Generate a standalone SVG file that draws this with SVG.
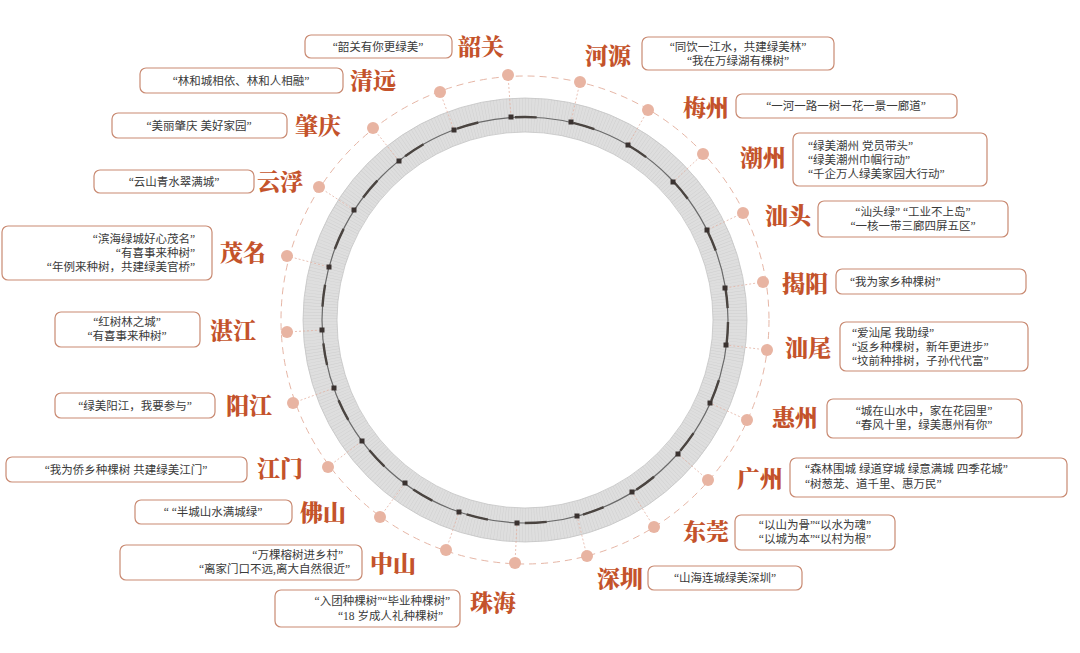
<svg xmlns="http://www.w3.org/2000/svg" width="1080" height="653" viewBox="0 0 1080 653">
<style>
.lb{font-family:"Noto Serif CJK SC","Noto Sans CJK SC",serif;font-weight:900;font-size:23px;fill:#c4532b}
.q{font-family:"Liberation Serif","Noto Sans CJK SC",serif;font-size:11.5px;fill:#3a3a3a}
.bx{fill:#fff;stroke:#c98a72;stroke-width:1.2}
.dot{fill:#e8b4a2}
.cn{stroke:#e3b3a3;stroke-width:0.8;stroke-dasharray:2 2}
.mk{fill:#3a3230}
</style>
<rect width="1080" height="653" fill="#fff"/>
<g id="ring">
<circle cx="525" cy="320" r="205" fill="none" stroke="#dedede" stroke-width="34"/>
<circle cx="525" cy="320" r="205" fill="none" stroke="#cdcdcd" stroke-width="34" stroke-dasharray="0.4 2.6"/>
<circle cx="525" cy="320" r="222" fill="none" stroke="#c4c4c4" stroke-width="0.8"/>
<circle cx="525" cy="320" r="188" fill="none" stroke="#c4c4c4" stroke-width="0.8"/>
<circle cx="525" cy="320" r="203" fill="none" stroke="#6a6a6a" stroke-width="1.2"/>
<circle cx="525" cy="320" r="203" fill="none" stroke="#4a4440" stroke-width="2.4" stroke-dasharray="22 37" stroke-dashoffset="-2"/>
<circle cx="525" cy="320" r="244" fill="none" stroke="#e6b6a6" stroke-width="1" stroke-dasharray="7 5"/>
</g>
<g id="connectors">
<line class="cn" x1="508" y1="75" x2="511" y2="117"/>
<line class="cn" x1="580" y1="82" x2="571" y2="122"/>
<line class="cn" x1="648" y1="110" x2="628" y2="145"/>
<line class="cn" x1="703" y1="154" x2="673" y2="182"/>
<line class="cn" x1="743" y1="213" x2="707" y2="230"/>
<line class="cn" x1="763" y1="282" x2="725" y2="288"/>
<line class="cn" x1="767" y1="350" x2="726" y2="345"/>
<line class="cn" x1="747" y1="420" x2="710" y2="403"/>
<line class="cn" x1="708" y1="480" x2="678" y2="454"/>
<line class="cn" x1="654" y1="527" x2="632" y2="492"/>
<line class="cn" x1="587" y1="556" x2="577" y2="516"/>
<line class="cn" x1="515" y1="563" x2="517" y2="523"/>
<line class="cn" x1="446" y1="550" x2="459" y2="512"/>
<line class="cn" x1="380" y1="517" x2="405" y2="483"/>
<line class="cn" x1="328" y1="467" x2="362" y2="441"/>
<line class="cn" x1="293" y1="403" x2="334" y2="388"/>
<line class="cn" x1="287" y1="332" x2="322" y2="330"/>
<line class="cn" x1="287" y1="256" x2="329" y2="267"/>
<line class="cn" x1="319" y1="187" x2="354" y2="210"/>
<line class="cn" x1="373" y1="128" x2="399" y2="161"/>
<line class="cn" x1="440" y1="92" x2="454" y2="130"/>
</g>
<g id="markers">
<rect class="mk" x="508.5" y="114.5" width="5" height="5"/><rect class="mk" x="568.5" y="119.5" width="5" height="5"/>
<rect class="mk" x="625.5" y="142.5" width="5" height="5"/><rect class="mk" x="670.5" y="179.5" width="5" height="5"/>
<rect class="mk" x="704.5" y="227.5" width="5" height="5"/><rect class="mk" x="722.5" y="285.5" width="5" height="5"/>
<rect class="mk" x="723.5" y="342.5" width="5" height="5"/><rect class="mk" x="707.5" y="400.5" width="5" height="5"/>
<rect class="mk" x="675.5" y="451.5" width="5" height="5"/><rect class="mk" x="629.5" y="489.5" width="5" height="5"/>
<rect class="mk" x="574.5" y="513.5" width="5" height="5"/><rect class="mk" x="514.5" y="520.5" width="5" height="5"/>
<rect class="mk" x="456.5" y="509.5" width="5" height="5"/><rect class="mk" x="402.5" y="480.5" width="5" height="5"/>
<rect class="mk" x="359.5" y="438.5" width="5" height="5"/><rect class="mk" x="331.5" y="385.5" width="5" height="5"/>
<rect class="mk" x="319.5" y="327.5" width="5" height="5"/><rect class="mk" x="326.5" y="264.5" width="5" height="5"/>
<rect class="mk" x="351.5" y="207.5" width="5" height="5"/><rect class="mk" x="396.5" y="158.5" width="5" height="5"/>
<rect class="mk" x="451.5" y="127.5" width="5" height="5"/>
</g>
<g id="shaoguan"><circle class="dot" cx="508" cy="75" r="6"/><rect class="bx" x="305" y="35" width="147" height="23" rx="6"/><text class="q" x="378" y="51" text-anchor="middle">“韶关有你更绿美”</text><text class="lb" x="458" y="55">韶关</text></g>
<g id="heyuan"><circle class="dot" cx="580" cy="82" r="6"/><text class="lb" x="585" y="64">河源</text><rect class="bx" x="642" y="37" width="192" height="33" rx="6"/><text class="q" x="738" y="51" text-anchor="middle">“同饮一江水，共建绿美林”</text><text class="q" x="738" y="65" text-anchor="middle">“我在万绿湖有棵树”</text></g>
<g id="qingyuan"><circle class="dot" cx="440" cy="92" r="6"/><rect class="bx" x="140" y="68" width="203" height="25" rx="6"/><text class="q" x="241" y="85" text-anchor="middle">“林和城相依、林和人相融”</text><text class="lb" x="350" y="89">清远</text></g>
<g id="meizhou"><circle class="dot" cx="648" cy="110" r="6"/><text class="lb" x="683" y="116">梅州</text><rect class="bx" x="736" y="94" width="221" height="24" rx="6"/><text class="q" x="846" y="110" text-anchor="middle">“一河一路一树一花一景一廊道”</text></g>
<g id="zhaoqing"><circle class="dot" cx="373" cy="128" r="6"/><rect class="bx" x="112" y="113" width="175" height="25" rx="6"/><text class="q" x="199" y="130" text-anchor="middle">“美丽肇庆 美好家园”</text><text class="lb" x="295" y="134">肇庆</text></g>
<g id="chaozhou"><circle class="dot" cx="703" cy="154" r="6"/><text class="lb" x="740" y="166">潮州</text><rect class="bx" x="793" y="133" width="194" height="53" rx="6"/><text class="q" x="808" y="150">“绿美潮州 党员带头”</text><text class="q" x="808" y="164">“绿美潮州巾帼行动”</text><text class="q" x="808" y="178">“千企万人绿美家园大行动”</text></g>
<g id="yunfu"><circle class="dot" cx="319" cy="187" r="6"/><rect class="bx" x="94" y="170" width="160" height="23" rx="6"/><text class="q" x="174" y="186" text-anchor="middle">“云山青水翠满城”</text><text class="lb" x="257" y="190">云浮</text></g>
<g id="shantou"><circle class="dot" cx="743" cy="213" r="6"/><text class="lb" x="765" y="224">汕头</text><rect class="bx" x="818" y="201" width="190" height="36" rx="6"/><text class="q" x="913" y="216" text-anchor="middle">“汕头绿”  “工业不上岛”</text><text class="q" x="913" y="230" text-anchor="middle">“一核一带三廊四屏五区”</text></g>
<g id="maoming"><circle class="dot" cx="287" cy="256" r="6"/><rect class="bx" x="2" y="226" width="210" height="54" rx="6"/><text class="q" x="195" y="243" text-anchor="end">“滨海绿城好心茂名”</text><text class="q" x="195" y="257" text-anchor="end">“有喜事来种树”</text><text class="q" x="195" y="271" text-anchor="end">“年例来种树，共建绿美官桥”</text><text class="lb" x="220" y="261">茂名</text></g>
<g id="jieyang"><circle class="dot" cx="763" cy="282" r="6"/><text class="lb" x="782" y="292">揭阳</text><rect class="bx" x="836" y="269" width="190" height="25" rx="6"/><text class="q" x="850" y="286">“我为家乡种棵树”</text></g>
<g id="zhanjiang"><circle class="dot" cx="287" cy="332" r="6"/><rect class="bx" x="55" y="312" width="145" height="35" rx="6"/><text class="q" x="127" y="326" text-anchor="middle">“红树林之城”</text><text class="q" x="127" y="340" text-anchor="middle">“有喜事来种树”</text><text class="lb" x="210" y="339">湛江</text></g>
<g id="shanwei"><circle class="dot" cx="767" cy="350" r="6"/><text class="lb" x="785" y="356">汕尾</text><rect class="bx" x="840" y="322" width="188" height="49" rx="6"/><text class="q" x="852" y="337">“爱汕尾 我助绿”</text><text class="q" x="852" y="351">“返乡种棵树，新年更进步”</text><text class="q" x="852" y="365">“坟前种排树，子孙代代富”</text></g>
<g id="yangjiang"><circle class="dot" cx="293" cy="403" r="6"/><rect class="bx" x="55" y="393" width="160" height="25" rx="6"/><text class="q" x="135" y="410" text-anchor="middle">“绿美阳江，我要参与”</text><text class="lb" x="226" y="414">阳江</text></g>
<g id="huizhou"><circle class="dot" cx="747" cy="420" r="6"/><text class="lb" x="772" y="426">惠州</text><rect class="bx" x="827" y="399" width="195" height="39" rx="6"/><text class="q" x="924" y="415" text-anchor="middle">“城在山水中，家在花园里”</text><text class="q" x="924" y="429" text-anchor="middle">“春风十里，绿美惠州有你”</text></g>
<g id="jiangmen"><circle class="dot" cx="328" cy="467" r="6"/><rect class="bx" x="6" y="457" width="241" height="25" rx="6"/><text class="q" x="126" y="474" text-anchor="middle">“我为侨乡种棵树 共建绿美江门”</text><text class="lb" x="257" y="477">江门</text></g>
<g id="guangzhou"><circle class="dot" cx="708" cy="480" r="6"/><text class="lb" x="737" y="487">广州</text><rect class="bx" x="790" y="458" width="277" height="39" rx="6"/><text class="q" x="805" y="473">“森林围城 绿道穿城 绿意满城 四季花城”</text><text class="q" x="805" y="488">“树葱茏、道千里、惠万民”</text></g>
<g id="foshan"><circle class="dot" cx="380" cy="517" r="6"/><rect class="bx" x="135" y="500" width="157" height="24" rx="6"/><text class="q" x="213" y="516" text-anchor="middle">“ “半城山水满城绿”</text><text class="lb" x="300" y="521">佛山</text></g>
<g id="dongguan"><circle class="dot" cx="654" cy="527" r="6"/><text class="lb" x="683" y="540">东莞</text><rect class="bx" x="735" y="515" width="160" height="35" rx="6"/><text class="q" x="815" y="529" text-anchor="middle">“以山为骨”“以水为魂”</text><text class="q" x="815" y="543" text-anchor="middle">“以城为本”“以村为根”</text></g>
<g id="zhongshan"><circle class="dot" cx="446" cy="550" r="6"/><rect class="bx" x="120" y="545" width="242" height="35" rx="6"/><text class="q" x="343" y="559" text-anchor="end">“万棵榕树进乡村”</text><text class="q" x="350" y="573" text-anchor="end">“离家门口不远,离大自然很近”</text><text class="lb" x="370" y="572">中山</text></g>
<g id="shenzhen"><circle class="dot" cx="587" cy="556" r="6"/><text class="lb" x="597" y="587">深圳</text><rect class="bx" x="648" y="566" width="154" height="24" rx="6"/><text class="q" x="725" y="582" text-anchor="middle">“山海连城绿美深圳”</text></g>
<g id="zhuhai"><circle class="dot" cx="515" cy="563" r="6"/><rect class="bx" x="275" y="590" width="185" height="37" rx="6"/><text class="q" x="450" y="605" text-anchor="end">“入团种棵树”“毕业种棵树”</text><text class="q" x="443" y="620" text-anchor="end">“18 岁成人礼种棵树”</text><text class="lb" x="470" y="611">珠海</text></g>
</svg>
